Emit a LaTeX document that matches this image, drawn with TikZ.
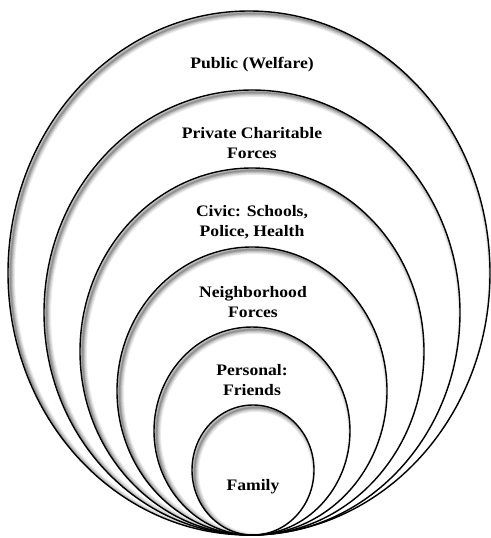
\documentclass[tikz,border=0pt]{standalone}
\usepackage{fontspec}
\setmainfont[FakeStretch=1.1]{Liberation Serif}
\begin{document}
\begin{tikzpicture}[x=1pt,y=-1pt,
  lab/.style={align=center,font=\bfseries\fontsize{16}{20}\selectfont,inner sep=0pt},
  ring/.style={draw=black,line width=1.4pt}]
\useasboundingbox (0,0) rectangle (490,538);
\fill[white] (0,0) rectangle (490,538);
% ellipses: cx, cy, rx, ry
\foreach \cx/\cy/\rx/\ry in {249/273/241/262, 252/312.5/208/222.5, 252/351.5/172/183.5, 252/391/135/144, 252/431/98/104, 253/470/61/65}{
  \fill[white] (\cx,\cy) ellipse [x radius=\rx, y radius=\ry];
  \begin{scope}
    \clip (\cx,\cy) ellipse [x radius=\rx, y radius=\ry];
    \foreach \w/\o in {9/0.07, 7/0.08, 5/0.1, 3/0.12, 1.5/0.15}{
      \draw[line width=\w pt, black, opacity=\o] (\cx+2.5,\cy+2.5) ellipse [x radius=\rx, y radius=\ry];
    }
  \end{scope}
}
\foreach \cx/\cy/\rx/\ry in {249/273/241/262, 252/312.5/208/222.5, 252/351.5/172/183.5, 252/391/135/144, 252/431/98/104, 253/470/61/65}{
  \draw[ring] (\cx,\cy) ellipse [x radius=\rx, y radius=\ry];
}
\node[lab] (public) at (252,65) {Public (Welfare)};
\node[lab] (private) at (252,143) {Private Charitable\\Forces};
\node[lab] (civic) at (252,222) {Civic: Schools,\\Police, Health};
\node[lab] (neigh) at (253,302) {Neighborhood\\Forces};
\node[lab] (personal) at (252,380) {Personal:\\Friends};
\node[lab] (family) at (253,487) {Family};
\end{tikzpicture}
\end{document}
